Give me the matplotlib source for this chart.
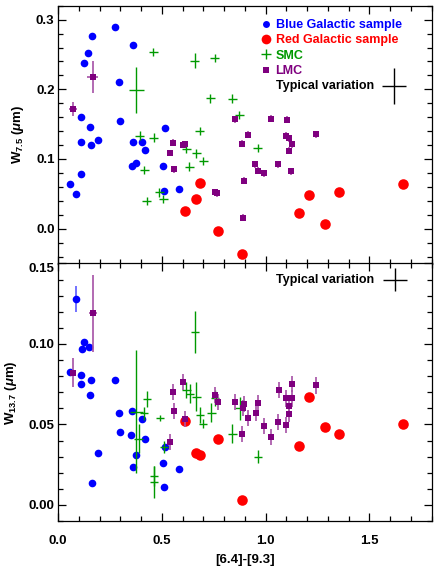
import numpy as np
import matplotlib
matplotlib.use("Agg")
import matplotlib.pyplot as plt
from matplotlib.ticker import MultipleLocator, FormatStrFormatter
from matplotlib.lines import Line2D

plt.rcParams['font.family'] = ['Liberation Sans', 'DejaVu Sans']
plt.rcParams['font.weight'] = 'bold'
plt.rcParams['mathtext.fontset'] = 'custom'
plt.rcParams['mathtext.rm'] = 'Liberation Sans:bold'
plt.rcParams['mathtext.bf'] = 'Liberation Sans:bold'
plt.rcParams['mathtext.it'] = 'Liberation Sans:italic'

# Colores
c_blue = '#0000ff'
c_red = '#ff0000'
c_green = '#009900'
c_purple = '#7f007f'

#### Painel superior: W 7.5 ####
blue_x_top = [0.058, 0.087, 0.109, 0.112, 0.112, 0.126, 0.146, 0.165, 0.154, 0.159, 0.194, 0.276,
              0.359, 0.295, 0.298, 0.362, 0.405, 0.417, 0.356, 0.378, 0.516, 0.506, 0.513, 0.583]
blue_y_top = [0.064, 0.050, 0.078, 0.124, 0.160, 0.238, 0.252, 0.277, 0.146, 0.120, 0.127, 0.290,
              0.264, 0.210, 0.154, 0.125, 0.125, 0.113, 0.090, 0.094, 0.144, 0.0895, 0.054, 0.057]

red_x_top = [0.614, 0.667, 0.683, 0.773, 0.886, 1.159, 1.208, 1.285, 1.354, 1.660]
red_y_top = [0.026, 0.043, 0.065, -0.003, -0.037, 0.0225, 0.049, 0.0067, 0.053, 0.0637]

smc_x_top = [0.460, 0.659, 0.755, 0.734, 0.378, 0.394, 0.462, 0.415, 0.428, 0.489, 0.508, 0.618,
             0.633, 0.667, 0.683, 0.700, 0.840, 0.873, 0.963]
smc_y_top = [0.254, 0.241, 0.2445, 0.187, 0.199, 0.1335, 0.1306, 0.084, 0.040, 0.052, 0.043, 0.114,
             0.089, 0.108, 0.1406, 0.097, 0.1866, 0.163, 0.116]
smc_xerr_top = [0.022, 0.022, 0.022, 0.022, 0.038, 0.022, 0.022, 0.022, 0.022, 0.022, 0.022, 0.022,
                0.022, 0.022, 0.022, 0.022, 0.022, 0.022, 0.022]
smc_yerr_top = [0.006, 0.011, 0.006, 0.006, 0.033, 0.006, 0.006, 0.006, 0.006, 0.006, 0.006, 0.006,
                0.006, 0.006, 0.006, 0.006, 0.006, 0.006, 0.006]

lmc_x_top = [0.071, 0.168, 0.554, 0.542, 0.558, 0.603, 0.614, 0.756, 0.768, 0.851, 0.915, 0.885, 0.896,
             0.891, 1.024, 1.102, 1.096, 1.112, 1.125, 1.111, 1.059, 0.950, 0.962, 0.994, 1.122, 1.244]
lmc_y_top = [0.172, 0.218, 0.123, 0.1086, 0.085, 0.1205, 0.1215, 0.052, 0.051, 0.157, 0.135, 0.122, 0.069,
             0.016, 0.158, 0.156, 0.1334, 0.1297, 0.121, 0.1115, 0.0924, 0.0924, 0.0828, 0.0795, 0.0824, 0.1354]
lmc_xerr_top = [0.02, 0.027] + [0.0] * 24
lmc_yerr_top = [0.010, 0.023] + [0.005] * 24

#### Painel inferior: W 13.7 ####
blue_x_bot = [0.088, 0.058, 0.111, 0.109, 0.114, 0.127, 0.147, 0.159, 0.154, 0.165, 0.194, 0.276,
              0.295, 0.298, 0.357, 0.354, 0.407, 0.417, 0.378, 0.362, 0.516, 0.506, 0.513, 0.583]
blue_y_bot = [0.128, 0.0823, 0.081, 0.0753, 0.0970, 0.1013, 0.098, 0.0773, 0.068, 0.0133, 0.032, 0.0773,
              0.0573, 0.045, 0.0583, 0.0432, 0.0531, 0.0412, 0.031, 0.0234, 0.0362, 0.0263, 0.0113, 0.0222]
blue_yerr_bot = [0.008] + [0.0] * 23

red_x_bot = [0.614, 0.667, 0.683, 0.773, 0.886, 1.159, 1.208, 1.285, 1.354, 1.660]
red_y_bot = [0.052, 0.0325, 0.031, 0.041, 0.0033, 0.0363, 0.0672, 0.0484, 0.0443, 0.0502]

smc_x_bot = [0.378, 0.388, 0.415, 0.429, 0.490, 0.510, 0.463, 0.462, 0.619, 0.635, 0.667, 0.683,
             0.699, 0.739, 0.755, 0.840, 0.875, 0.963, 0.659]
smc_y_bot = [0.058, 0.041, 0.057, 0.066, 0.054, 0.036, 0.018, 0.0143, 0.0713, 0.0692, 0.0672, 0.056,
             0.0505, 0.0573, 0.0666, 0.0443, 0.060, 0.030, 0.1073]
smc_xerr_bot = [0.03] + [0.02] * 18
smc_yerr_bot = [0.038, 0.009, 0.004, 0.005, 0.002, 0.004, 0.006, 0.010, 0.005, 0.006, 0.009, 0.005,
                0.003, 0.006, 0.005, 0.006, 0.007, 0.004, 0.013]

lmc_x_bot = [0.071, 0.168, 0.554, 0.559, 0.603, 0.614, 0.540, 0.758, 0.769, 0.851, 0.896, 0.891, 0.885, 0.917,
             0.952, 0.962, 0.994, 1.024, 1.061, 1.067, 1.096, 1.099, 1.111, 1.114, 1.125, 1.125, 1.244]
lmc_y_bot = [0.082, 0.119, 0.0703, 0.0583, 0.0763, 0.0531, 0.0393, 0.0682, 0.0641, 0.0641, 0.0624, 0.0604, 0.0443,
             0.0542, 0.0573, 0.063, 0.0492, 0.0422, 0.0513, 0.0711, 0.0494, 0.0661, 0.0614, 0.0562, 0.0661,
             0.0753, 0.0742]
lmc_xerr_bot = [0.015, 0.02] + [0.0] * 25
lmc_yerr_bot = [0.009, 0.024] + [0.005] * 25

# Variação típica (x, y, xerr, yerr)
typ_top = [1.62, 0.205, 0.058, 0.026]
typ_bot = [1.625, 0.140, 0.058, 0.007]

legend_labels = ['Blue Galactic sample', 'Red Galactic sample', 'SMC', 'LMC']


fig = plt.figure(figsize=(4.36, 5.70), dpi=100)
ax0 = fig.add_axes([0.133, 0.5377, 0.857, 0.4523])
ax1 = fig.add_axes([0.133, 0.0860, 0.857, 0.4518])


def draw_panel(ax, bx, by, byerr, rx, ry, sx, sy, sxe, sye, lx, ly, lxe, lye, typ):
    ax.errorbar(bx, by, yerr=byerr, fmt='o', color=c_blue, ecolor='#5a5aff', ms=5.5, mew=0,
                elinewidth=1.2, capsize=0, zorder=2)
    ax.plot(rx, ry, 'o', color=c_red, ms=7.6, mew=0, zorder=3)
    ax.errorbar(sx, sy, xerr=sxe, yerr=sye, fmt='none', ecolor=c_green, elinewidth=1.0,
                capsize=0, zorder=4)
    ax.errorbar(lx, ly, xerr=lxe, yerr=lye, fmt='s', color=c_purple, ecolor='#a650a6', ms=3.8,
                mew=0, elinewidth=1.2, capsize=0, zorder=5)
    ax.errorbar(typ[0], typ[1], xerr=typ[2], yerr=typ[3], fmt='none', ecolor='black',
                elinewidth=1.0, capsize=0)
    ax.text(1.525, typ[1], 'Typical variation', ha='right', va='center', fontsize=9,
            fontweight='bold', color='black')
    ax.set_xlim(0, 1.8)
    ax.xaxis.set_major_locator(MultipleLocator(0.5))
    ax.xaxis.set_minor_locator(MultipleLocator(0.1))
    ax.tick_params(which='both', direction='in', top=True, right=True, labelsize=9.5)
    ax.tick_params(which='major', length=6, width=0.9)
    ax.tick_params(which='minor', length=3.5, width=0.9)
    ax.tick_params(axis='y', pad=2.5)
    ax.tick_params(axis='x', pad=10)
    for s in ax.spines.values():
        s.set_linewidth(0.9)


draw_panel(ax0, blue_x_top, blue_y_top, None, red_x_top, red_y_top, smc_x_top, smc_y_top,
           smc_xerr_top, smc_yerr_top, lmc_x_top, lmc_y_top, lmc_xerr_top, lmc_yerr_top, typ_top)
draw_panel(ax1, blue_x_bot, blue_y_bot, blue_yerr_bot, red_x_bot, red_y_bot, smc_x_bot, smc_y_bot,
           smc_xerr_bot, smc_yerr_bot, lmc_x_bot, lmc_y_bot, lmc_xerr_bot, lmc_yerr_bot, typ_bot)

ax0.set_ylim(-0.05, 0.32)
ax0.yaxis.set_major_locator(MultipleLocator(0.1))
ax0.yaxis.set_minor_locator(MultipleLocator(0.02))
ax0.yaxis.set_major_formatter(FormatStrFormatter('%.1f'))
ax0.tick_params(axis='x', labelbottom=False)
ax0.set_ylabel(r'W$_{7.5}$ ($\mu$m)', fontsize=9.5, fontweight='bold', labelpad=7)

ax1.set_ylim(-0.01, 0.15)
ax1.yaxis.set_major_locator(MultipleLocator(0.05))
ax1.yaxis.set_minor_locator(MultipleLocator(0.01))
ax1.yaxis.set_major_formatter(FormatStrFormatter('%.2f'))
ax1.xaxis.set_major_formatter(FormatStrFormatter('%.1f'))
ax1.set_ylabel(r'W$_{13.7}$ ($\mu$m)', fontsize=9.5, fontweight='bold', labelpad=7)
ax1.set_xlabel('[6.4]-[9.3]', fontsize=9.5, fontweight='bold', labelpad=5)

# Legenda
handles = [Line2D([], [], ls='none', marker='o', color=c_blue, ms=5, mew=0),
           Line2D([], [], ls='none', marker='o', color=c_red, ms=7, mew=0),
           Line2D([], [], ls='none', marker='+', color=c_green, ms=7, mew=1.0),
           Line2D([], [], ls='none', marker='s', color=c_purple, ms=4, mew=0)]
leg = ax0.legend(handles, legend_labels, loc='upper left', bbox_to_anchor=(0.5405, 0.948),
                 frameon=False, handlelength=1.0, handletextpad=0.25, borderpad=0,
                 borderaxespad=0, labelspacing=0.27,
                 labelcolor=[c_blue, c_red, c_green, c_purple],
                 prop={'size': 9, 'weight': 'bold'})

# o rótulo 0.15 fica abaixo da borda, como no original
fig.canvas.draw()
for t in ax1.yaxis.get_major_ticks():
    if abs(t.get_loc() - 0.15) < 1e-6:
        t.label1.set_verticalalignment('top')

fig.savefig('out.png', dpi=100)
